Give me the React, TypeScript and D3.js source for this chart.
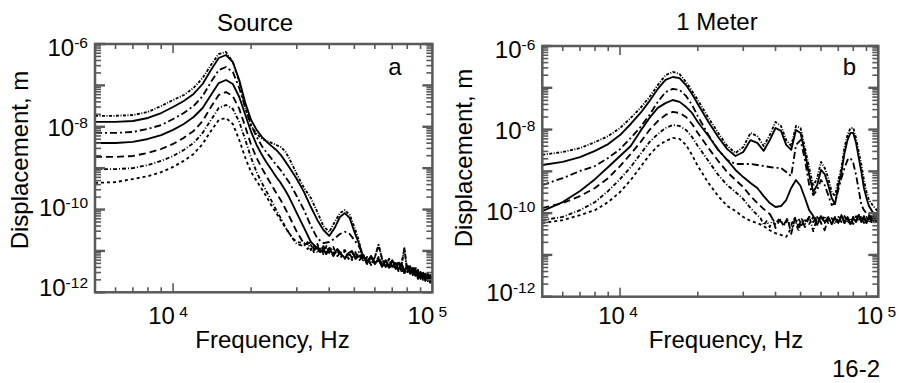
import React from 'react';
import * as d3 from 'd3';

// ---------- data ----------
// shared frequency grid of the noise floor (Hz)
const floorFreq = [32000, 33000, 34000, 35000, 36000, 37000, 38000, 39000, 40000, 41500, 43000, 44500, 46000, 47500, 49000, 50500, 52000, 54000, 56000, 58000, 60000, 62000, 64000, 66000, 68000, 70000, 72000, 74000, 76000, 78000, 80000, 82000, 84000, 86000, 88000, 90000, 92000, 94000, 96000, 98000, 100000];

// Panel a: Source
const srcFreq = [5000, 6000, 7000, 8000, 9000, 10000, 11000, 12000, 13000, 14000, 15000, 16000, 17000, 18000, 19000, 20000, 21000, 22000, 23000, 24000, 25000, 26000, 27000, 28000, 29000, 30000, 32000, 34000, 36000, 38000, 40000, 42000, 44000, 46000, 48000, 50000, 52000];
const srcA = [1.84e-8, 1.84e-8, 1.92e-8, 2.28e-8, 3.18e-8, 4.44e-8, 5.86e-8, 8.65e-8, 1.51e-7, 3.11e-7, 5.73e-7, 6.41e-7, 3.67e-7, 1.21e-7, 2.84e-8, 1.04e-8, 6.7e-9, 5.07e-9, 4.54e-9, 4.06e-9, 3.63e-9, 3.25e-9, 2.6e-9, 1.76e-9, 1.13e-9, 7.2e-10, 3.3e-10, 1.9e-10, 8.7e-11, 4.0e-11, 2.86e-11, 5.0e-11, 8.2e-11, 9.7e-11, 7.4e-11, 3.8e-11, 1.83e-11];
const srcB = [1.31e-8, 1.31e-8, 1.38e-8, 1.63e-8, 2.15e-8, 3.0e-8, 4.2e-8, 6.2e-8, 1.08e-7, 2.35e-7, 4.59e-7, 5.42e-7, 3.67e-7, 1.35e-7, 3.76e-8, 1.46e-8, 8.4e-9, 5.7e-9, 4.3e-9, 3.4e-9, 2.75e-9, 2.1e-9, 1.5e-9, 1.07e-9, 7.6e-10, 5.45e-10, 2.64e-10, 1.15e-10, 5.6e-11, 3.2e-11, 2.3e-11, 3.6e-11, 6.6e-11, 8.2e-11, 6.2e-11, 2.9e-11, 1.55e-11];
const srcC = [7.1e-9, 7.1e-9, 7.5e-9, 8.9e-9, 1.1e-8, 1.54e-8, 2.15e-8, 3.18e-8, 5.5e-8, 1.21e-7, 2.35e-7, 2.78e-7, 2.11e-7, 8.65e-8, 2.84e-8, 1.1e-8, 5.7e-9, 3.4e-9, 2.33e-9, 1.67e-9, 1.19e-9, 9.0e-10, 6.4e-10, 4.6e-10, 3.1e-10, 2.1e-10, 9.7e-11, 4.0e-11, 2.0e-11, 1.55e-11, 1.64e-11, 2.0e-11, 2.56e-11, 2.9e-11, 2.56e-11, 1.83e-11, 1.31e-11];
const srcD = [4.06e-9, 4.06e-9, 4.3e-9, 5.07e-9, 6.3e-9, 8.4e-9, 1.17e-8, 1.72e-8, 2.84e-8, 5.86e-8, 1.14e-7, 1.35e-7, 1.08e-7, 5.25e-8, 1.92e-8, 7.5e-9, 3.63e-9, 2.1e-9, 1.33e-9, 9.0e-10, 6.1e-10, 4.4e-10, 3.0e-10, 2.0e-10, 1.28e-10, 8.2e-11, 3.6e-11, 1.64e-11, 1.17e-11];
const srcE = [1.87e-9, 1.87e-9, 1.97e-9, 2.33e-9, 2.9e-9, 3.84e-9, 5.4e-9, 7.9e-9, 1.38e-8, 3.0e-8, 5.86e-8, 6.9e-8, 5.5e-8, 2.7e-8, 9.9e-9, 3.63e-9, 1.76e-9, 1.0e-9, 6.1e-10, 3.9e-10, 2.5e-10, 1.7e-10, 1.09e-10, 7.0e-11, 4.5e-11, 2.9e-11, 1.47e-11];
const srcF = [9.5e-10, 9.5e-10, 1.0e-9, 1.19e-9, 1.5e-9, 1.97e-9, 2.75e-9, 4.06e-9, 7.1e-9, 1.46e-8, 2.84e-8, 3.36e-8, 2.7e-8, 1.31e-8, 4.8e-9, 1.76e-9, 8.0e-10, 4.4e-10, 2.64e-10, 1.6e-10, 9.7e-11, 6.2e-11, 4.0e-11, 2.7e-11, 1.94e-11, 1.47e-11];
const srcG = [4.4e-10, 4.6e-10, 5.45e-10, 6.4e-10, 8.0e-10, 1.07e-9, 1.5e-9, 2.2e-9, 3.84e-9, 7.9e-9, 1.46e-8, 1.63e-8, 1.17e-8, 4.8e-9, 1.76e-9, 8.0e-10, 4.9e-10, 3.1e-10, 2.0e-10, 1.21e-10, 8.2e-11, 5.6e-11, 3.8e-11, 2.7e-11, 2.0e-11, 1.64e-11];
const srcFloor1 = [1.31e-11, 1.64e-11, 1.05e-11, 1.39e-11, 8.9e-12, 1.24e-11, 8.4e-12, 1.31e-11, 8.9e-12, 1.24e-11, 7.5e-12, 9.4e-12, 1.05e-11, 6.4e-12, 9.4e-12, 6.7e-12, 9.4e-12, 5.7e-12, 7.1e-12, 4.6e-12, 7.1e-12, 1.39e-11, 6.4e-12, 4.1e-12, 6.4e-12, 4.1e-12, 5.1e-12, 3.3e-12, 4.6e-12, 1.17e-11, 3.1e-12, 4.1e-12, 2.6e-12, 4.1e-12, 2.5e-12, 2.9e-12, 2.0e-12, 2.8e-12, 1.9e-12, 2.6e-12, 1.8e-12];
const srcFloor2 = [1.11e-11, 1.47e-11, 1.64e-11, 1.05e-11, 1.39e-11, 8.9e-12, 1.31e-11, 8.9e-12, 1.11e-11, 7.5e-12, 1.11e-11, 8.0e-12, 6.4e-12, 9.4e-12, 6.7e-12, 9.4e-12, 5.7e-12, 7.5e-12, 5.4e-12, 7.5e-12, 4.8e-12, 6.4e-12, 4.3e-12, 5.7e-12, 4.1e-12, 5.7e-12, 4.8e-12, 5.1e-12, 3.3e-12, 3.3e-12, 4.3e-12, 2.8e-12, 3.9e-12, 2.6e-12, 3.45e-12, 2.2e-12, 2.9e-12, 1.9e-12, 2.6e-12, 1.7e-12, 2.3e-12];
const srcFloor3 = [1.55e-11, 1.11e-11, 1.39e-11, 8.9e-12, 1.47e-11, 1.0e-11, 1.24e-11, 8.0e-12, 1.24e-11, 8.9e-12, 1.0e-11, 7.1e-12, 1.0e-11, 8.4e-12, 6.0e-12, 8.9e-12, 6.4e-12, 8.4e-12, 4.8e-12, 7.1e-12, 5.1e-12, 7.1e-12, 4.6e-12, 5.7e-12, 3.9e-12, 4.8e-12, 3.65e-12, 5.4e-12, 4.3e-12, 2.9e-12, 4.6e-12, 3.1e-12, 3.65e-12, 2.5e-12, 3.1e-12, 2.1e-12, 3.1e-12, 2.1e-12, 2.8e-12, 1.9e-12, 1.7e-12];
const srcFloor4 = [1.17e-11, 1.55e-11, 1.0e-11, 1.31e-11, 1.47e-11, 9.4e-12, 1.11e-11, 8.4e-12, 1.17e-11, 8.0e-12, 1.11e-11, 8.4e-12, 6.7e-12, 8.9e-12, 1.0e-11, 6.4e-12, 7.5e-12, 8.0e-12, 5.1e-12, 7.5e-12, 5.1e-12, 6.0e-12, 4.1e-12, 6.0e-12, 4.3e-12, 6.0e-12, 3.9e-12, 3.65e-12, 5.1e-12, 3.3e-12, 4.1e-12, 4.3e-12, 2.9e-12, 3.65e-12, 2.1e-12, 3.1e-12, 2.3e-12, 2.8e-12, 1.9e-12, 2.5e-12, 2.1e-12];

// Panel b: 1 Meter
const mFreq = [5000, 6000, 7000, 8000, 9000, 10000, 11000, 12000, 13000, 14000, 15000, 16000, 17000, 18000, 19000, 20000, 22000, 24000, 26000, 28000, 30000, 32000, 34000, 36000, 38000, 40000, 42000, 44000, 46000, 48000, 50000, 52000, 54000, 56000, 58000, 60000, 62000, 64000, 66000, 68000, 70000, 72000, 74000, 76000, 78000, 80000, 82000, 84000, 86000, 88000, 90000, 92000, 95000, 100000];
const mA = [2.5e-9, 2.9e-9, 3.6e-9, 5.0e-9, 7.0e-9, 1.09e-8, 1.9e-8, 3.3e-8, 6.0e-8, 1.16e-7, 2.0e-7, 2.4e-7, 2.14e-7, 1.38e-7, 8.4e-8, 5.1e-8, 1.9e-8, 8.3e-9, 4.05e-9, 2.76e-9, 3.8e-9, 8.3e-9, 7.0e-9, 4.05e-9, 7.4e-9, 1.52e-8, 1.22e-8, 5.6e-9, 4.05e-9, 1.22e-8, 1.09e-8, 3.6e-9, 1.21e-9, 4.45e-10, 6.9e-10, 1.68e-9, 1.21e-9, 6.9e-10, 3.2e-10, 2.56e-10, 6.2e-10, 1.21e-9, 3.8e-9, 7.4e-9, 1.09e-8, 1.09e-8, 6.3e-9, 2.9e-9, 1.42e-9, 6.2e-10, 3.2e-10, 2.06e-10, 1.56e-10, 1.06e-10];
const mB = [1.42e-9, 1.68e-9, 2.2e-9, 3.1e-9, 4.5e-9, 7.4e-9, 1.36e-8, 2.5e-8, 4.8e-8, 9.4e-8, 1.54e-7, 1.81e-7, 1.71e-7, 1.16e-7, 7.1e-8, 4.1e-8, 1.52e-8, 6.65e-9, 3.4e-9, 2.33e-9, 2.9e-9, 5.6e-9, 4.8e-9, 3.1e-9, 5.6e-9, 1.09e-8, 9.3e-9, 4.3e-9, 3.25e-9, 9.8e-9, 8.3e-9, 2.76e-9, 8.2e-10, 3.2e-10, 4.7e-10, 1.08e-9, 8.6e-10, 4.7e-10, 2.3e-10, 1.65e-10, 4.45e-10, 9.6e-10, 2.76e-9, 5.6e-9, 8.3e-9, 8.3e-9, 4.8e-9, 2.1e-9, 9.6e-10, 4.0e-10, 2.3e-10, 1.48e-10, 1.06e-10, 8.5e-11];
const mC = [4.7e-10, 6.9e-10, 1.02e-9, 1.34e-9, 2.1e-9, 3.4e-9, 6.3e-9, 1.15e-8, 2.24e-8, 4.6e-8, 7.9e-8, 9.4e-8, 8.9e-8, 6.4e-8, 3.9e-8, 2.1e-8, 7.4e-9, 3.25e-9, 1.87e-9, 1.5e-9, 1.5e-9, 1.5e-9, 1.42e-9, 1.34e-9, 1.27e-9, 1.21e-9, 1.21e-9, 9.6e-10, 7.7e-10, 4.3e-9, 5.6e-9, 1.87e-9, 4.7e-10, 2.7e-10, 3.6e-10, 6.2e-10, 4.7e-10, 2.7e-10, 1.56e-10, 1.74e-10, 3.6e-10, 6.9e-10, 1.21e-9, 1.87e-9, 2.1e-9, 1.59e-9, 8.2e-10, 3.6e-10, 1.56e-10, 1.18e-10, 1.0e-10, 9.0e-11, 8.0e-11, 7.6e-11];
const mD = [1.12e-10, 1.84e-10, 3.4e-10, 6.5e-10, 1.27e-9, 2.33e-9, 4.05e-9, 9.3e-9, 1.9e-8, 3.3e-8, 4.3e-8, 5.1e-8, 4.6e-8, 3.5e-8, 2.5e-8, 1.52e-8, 7.0e-9, 3.25e-9, 1.87e-9, 1.08e-9, 7.3e-10, 5.25e-10, 4.0e-10, 2.56e-10, 1.74e-10, 1.4e-10, 1.48e-10, 2.06e-10, 4.0e-10, 6.2e-10, 4.45e-10, 2.3e-10, 1.18e-10, 8.5e-11];
const mE = [1.32e-10, 1.74e-10, 2.56e-10, 4.0e-10, 6.9e-10, 1.34e-9, 2.6e-9, 5.0e-9, 9.8e-9, 1.6e-8, 2.24e-8, 2.64e-8, 2.5e-8, 2.0e-8, 1.36e-8, 8.3e-9, 3.6e-9, 1.77e-9, 9.6e-10, 6.2e-10, 4.2e-10, 2.56e-10, 1.74e-10, 1.25e-10, 9.5e-11];
const mF = [6.8e-11, 8.1e-11, 1.18e-10, 1.84e-10, 3.4e-10, 6.5e-10, 1.27e-9, 2.6e-9, 5.0e-9, 7.85e-9, 1.09e-8, 1.29e-8, 1.22e-8, 9.8e-9, 6.65e-9, 4.05e-9, 1.77e-9, 8.2e-10, 4.7e-10, 3.2e-10, 2.17e-10, 1.32e-10, 9.0e-11];
const mG = [5.8e-11, 6.8e-11, 9.0e-11, 1.18e-10, 1.84e-10, 3.2e-10, 6.2e-10, 1.27e-9, 2.47e-9, 4.05e-9, 5.3e-9, 6.3e-9, 6.0e-9, 4.3e-9, 2.47e-9, 1.34e-9, 5.25e-10, 2.56e-10, 1.48e-10, 1.12e-10, 8.1e-11, 6.5e-11, 5.8e-11, 4.9e-11, 3.9e-11, 3.3e-11, 3.0e-11, 2.7e-11, 4.4e-11];
const mFloor1 = [6.1e-11, 5.2e-11, 6.8e-11, 4.9e-11, 7.2e-11, 5.5e-11, 7.6e-11, 4.65e-11, 6.8e-11, 5.2e-11, 8.1e-11, 4.9e-11, 6.8e-11, 4.4e-11, 7.2e-11, 5.5e-11, 7.6e-11, 5.8e-11, 7.6e-11, 5.2e-11, 8.5e-11, 6.1e-11, 8.1e-11, 5.5e-11, 7.6e-11, 5.8e-11, 9.0e-11, 6.1e-11, 8.1e-11, 5.5e-11, 7.6e-11, 6.1e-11, 9.0e-11, 6.5e-11, 8.5e-11, 5.8e-11, 8.1e-11, 6.1e-11, 9.0e-11, 6.5e-11, 7.2e-11];
const mFloor2 = [6.8e-11, 4.9e-11, 7.2e-11, 5.8e-11, 4.65e-11, 7.6e-11, 5.5e-11, 7.2e-11, 4.4e-11, 6.8e-11, 5.2e-11, 7.6e-11, 3.2e-11, 7.2e-11, 4.9e-11, 6.8e-11, 4.65e-11, 8.1e-11, 6.1e-11, 8.5e-11, 5.8e-11, 3.9e-11, 7.6e-11, 5.5e-11, 8.1e-11, 6.1e-11, 8.5e-11, 5.8e-11, 7.6e-11, 5.2e-11, 8.1e-11, 6.5e-11, 9.0e-11, 6.1e-11, 8.1e-11, 5.8e-11, 8.5e-11, 6.5e-11, 8.5e-11, 6.1e-11, 7.6e-11];
const mFloor3 = [5.2e-11, 7.2e-11, 5.5e-11, 7.6e-11, 5.2e-11, 6.5e-11, 4.65e-11, 7.2e-11, 5.5e-11, 7.6e-11, 4.9e-11, 6.8e-11, 5.2e-11, 8.1e-11, 3.7e-11, 7.2e-11, 5.5e-11, 8.5e-11, 3.7e-11, 8.1e-11, 6.1e-11, 8.5e-11, 5.8e-11, 7.6e-11, 5.5e-11, 8.1e-11, 6.1e-11, 8.5e-11, 5.8e-11, 7.6e-11, 5.5e-11, 8.5e-11, 6.5e-11, 8.5e-11, 5.8e-11, 8.1e-11, 6.1e-11, 9.0e-11, 6.5e-11, 8.1e-11, 6.5e-11];
const mFloor4 = [7.2e-11, 5.5e-11, 7.6e-11, 5.2e-11, 6.8e-11, 4.65e-11, 7.2e-11, 5.5e-11, 7.6e-11, 5.2e-11, 6.8e-11, 4.65e-11, 7.2e-11, 5.5e-11, 7.6e-11, 5.2e-11, 6.8e-11, 5.5e-11, 8.1e-11, 6.1e-11, 8.5e-11, 5.8e-11, 7.6e-11, 5.5e-11, 8.1e-11, 6.1e-11, 9.0e-11, 5.8e-11, 7.6e-11, 5.5e-11, 8.1e-11, 6.5e-11, 9.0e-11, 6.1e-11, 8.1e-11, 5.8e-11, 8.5e-11, 6.5e-11, 9.0e-11, 6.1e-11, 8.1e-11];

// ticks / labels
const xMinorTicks = [6000, 7000, 8000, 9000, 20000, 30000, 40000, 50000, 60000, 70000, 80000, 90000];
const xMajorTicks = [10000, 100000];
const xLabelExps = [4, 5];
const yDecadeExps = [-12, -11, -10, -9, -8, -7, -6];
const yMinorMults = [2, 3, 4, 5, 6, 7, 8, 9];
const yLabelExps = [-6, -8, -10, -12];

// ---------- styles ----------
const FONT = "'Liberation Sans', Arial, Helvetica, sans-serif";
const AXIS = '#595959';
const FS = 24;
const FS_SUP = 15.5;
const DASH: Record<string, string | undefined> = {
  A: '3,1.5,1,1.5',
  B: undefined,
  C: '7,3,2,3',
  D: undefined,
  E: '7,4',
  F: '4,2,1,2',
  G: '3,3',
};

type CurveDef = { key: string; vals: number[]; floor: number[] | null };

type PanelDef = {
  id: string;
  title: string;
  letter: string;
  box: { x0: number; x1: number; y0: number; y1: number };
  freq: number[];
  curves: CurveDef[];
  titleX: number;
  titleY: number;
  xLabelX: number;
  yLabelX: number;
  yLabelY: number;
  letterX: number;
  tickLabelShift: number;
};

const panels: PanelDef[] = [
  {
    id: 'a',
    title: 'Source',
    letter: 'a',
    box: { x0: 95, x1: 432.4, y0: 44, y1: 292.3 },
    freq: srcFreq,
    curves: [
      { key: 'A', vals: srcA, floor: srcFloor1 },
      { key: 'B', vals: srcB, floor: srcFloor2 },
      { key: 'C', vals: srcC, floor: srcFloor3 },
      { key: 'D', vals: srcD, floor: srcFloor4 },
      { key: 'E', vals: srcE, floor: srcFloor2 },
      { key: 'F', vals: srcF, floor: srcFloor1 },
      { key: 'G', vals: srcG, floor: srcFloor3 },
    ],
    titleX: 255,
    titleY: 31,
    xLabelX: 272.5,
    yLabelX: 28,
    yLabelY: 160,
    letterX: 395,
    tickLabelShift: -5,
  },
  {
    id: 'b',
    title: '1 Meter',
    letter: 'b',
    box: { x0: 542.3, x1: 878.3, y0: 46, y1: 296.7 },
    freq: mFreq,
    curves: [
      { key: 'A', vals: mA, floor: null },
      { key: 'B', vals: mB, floor: null },
      { key: 'C', vals: mC, floor: null },
      { key: 'D', vals: mD, floor: mFloor1 },
      { key: 'E', vals: mE, floor: mFloor2 },
      { key: 'F', vals: mF, floor: mFloor3 },
      { key: 'G', vals: mG, floor: mFloor4 },
    ],
    titleX: 717,
    titleY: 30,
    xLabelX: 726,
    yLabelX: 472,
    yLabelY: 158,
    letterX: 849.5,
    tickLabelShift: -2,
  },
];

function Panel({ p }: { p: PanelDef }) {
  const { x0, x1, y0, y1 } = p.box;
  const x = d3.scaleLog().domain([5000, 100000]).range([x0, x1]);
  const y = d3.scaleLog().domain([1e-12, 1e-6]).range([y1, y0]);
  const line = d3
    .line<[number, number]>()
    .x((d) => x(d[0]))
    .y((d) => y(d[1]));

  const paths = p.curves.map((c) => {
    const head: [number, number][] = c.vals.map((v, i) => [p.freq[i], v]);
    const lastF = p.freq[c.vals.length - 1];
    const tail: [number, number][] = c.floor
      ? floorFreq.map((f, i) => [f, c.floor![i]] as [number, number]).filter((d) => d[0] > lastF)
      : [];
    return { key: c.key, d: line(head.concat(tail)) || '' };
  });

  const yMinor: number[] = [];
  yDecadeExps.slice(0, -1).forEach((e) => yMinorMults.forEach((m) => yMinor.push(m * Math.pow(10, e))));
  const yMajor = yDecadeExps.map((e) => Math.pow(10, e));

  const topBase = y(1e-6) + 12;
  const botBase = y(1e-12) + 4;

  return (
    <g>
      <defs>
        <clipPath id={`clip-${p.id}`}>
          <rect x={x0} y={y0} width={x1 - x0} height={y1 - y0} />
        </clipPath>
      </defs>
      <g clipPath={`url(#clip-${p.id})`} fill="none" stroke="#000" strokeWidth={1.85} strokeLinejoin="round">
        {paths.map((pt) => (
          <path key={pt.key} d={pt.d} strokeDasharray={DASH[pt.key]} />
        ))}
      </g>
      {/* ticks */}
      <g stroke={AXIS} strokeWidth={1.6}>
        {yMinor.map((v, i) => (
          <g key={`ym${i}`}>
            <line x1={x0} x2={x0 + 6} y1={y(v)} y2={y(v)} />
            <line x1={x1} x2={x1 - 6} y1={y(v)} y2={y(v)} />
          </g>
        ))}
        {yMajor.map((v, i) => (
          <g key={`yM${i}`}>
            <line x1={x0} x2={x0 + 10} y1={y(v)} y2={y(v)} strokeWidth={2.4} />
            <line x1={x1} x2={x1 - 10} y1={y(v)} y2={y(v)} strokeWidth={2.4} />
          </g>
        ))}
        {xMinorTicks.map((f, i) => (
          <g key={`xm${i}`}>
            <line x1={x(f)} x2={x(f)} y1={y1} y2={y1 - 5} />
            <line x1={x(f)} x2={x(f)} y1={y0} y2={y0 + 5} />
          </g>
        ))}
        {xMajorTicks.map((f, i) => (
          <g key={`xM${i}`}>
            <line x1={x(f)} x2={x(f)} y1={y1} y2={y1 - 9} />
            <line x1={x(f)} x2={x(f)} y1={y0} y2={y0 + 9} />
          </g>
        ))}
      </g>
      <rect x={x0} y={y0} width={x1 - x0} height={y1 - y0} fill="none" stroke={AXIS} strokeWidth={2.5} />
      {/* y tick labels */}
      {yLabelExps.map((e, i) => (
        <text
          key={`yl${e}`}
          x={x0 - 7}
          y={topBase + ((botBase - topBase) * i) / (yLabelExps.length - 1)}
          textAnchor="end"
          fontSize={FS}
        >
          10
          <tspan dy={-8} fontSize={FS_SUP}>
            {String(e)}
          </tspan>
        </text>
      ))}
      {/* x tick labels */}
      {xLabelExps.map((e) => (
        <text key={`xl${e}`} x={x(Math.pow(10, e)) + p.tickLabelShift} y={324} textAnchor="middle" fontSize={FS}>
          10
          <tspan dy={-7} fontSize={FS_SUP}>
            {' ' + e}
          </tspan>
        </text>
      ))}
      <text x={p.titleX} y={p.titleY} textAnchor="middle" fontSize={FS}>
        {p.title}
      </text>
      <text x={p.letterX} y={75} textAnchor="middle" fontSize={FS}>
        {p.letter}
      </text>
      <text x={p.xLabelX} y={348} textAnchor="middle" fontSize={FS}>
        Frequency, Hz
      </text>
      <text
        transform={`translate(${p.yLabelX},${p.yLabelY}) rotate(-90)`}
        textAnchor="middle"
        fontSize={FS}
      >
        Displacement, m
      </text>
    </g>
  );
}

export default function App() {
  return (
    <svg
      width={903}
      height={383}
      viewBox="0 0 903 383"
      style={{ position: 'absolute', left: 0, top: 0, background: '#fff' }}
      fontFamily={FONT}
      fill="#000"
    >
      <rect x={0} y={0} width={903} height={383} fill="#fff" />
      {panels.map((p) => (
        <Panel key={p.id} p={p} />
      ))}
      <text x={856} y={377} textAnchor="middle" fontSize={FS}>
        16-2
      </text>
    </svg>
  );
}
